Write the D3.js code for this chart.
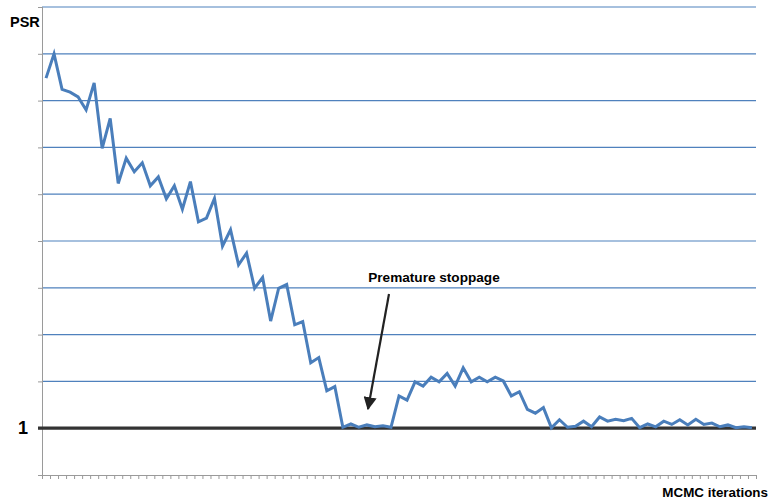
<!DOCTYPE html>
<html>
<head>
<meta charset="utf-8">
<script src="https://cdn.jsdelivr.net/npm/d3@7"></script>
<style>
  html, body { margin: 0; padding: 0; background: #fff; }
  svg { display: block; font-family: "Liberation Sans", Arial, sans-serif; }
</style>
</head>
<body>
<svg id="chart" width="772" height="499"></svg>
<script>
// PSR value per MCMC iteration (in gridline units; 1 = convergence line)
const psr = [
  8.48, 9.00, 8.24, 8.18, 8.08, 7.80, 8.38, 6.98, 7.62, 6.23,
  6.77, 6.48, 6.67, 6.18, 6.37, 5.90, 6.18, 5.68, 6.27, 5.41,
  5.49, 5.91, 4.89, 5.24, 4.49, 4.74, 3.99, 4.22, 3.29, 3.99,
  4.07, 3.21, 3.28, 2.40, 2.51, 1.80, 1.89, 1.02, 1.09, 1.02,
  1.07, 1.03, 1.05, 1.02, 1.69, 1.60, 1.99, 1.90, 2.09, 1.99,
  2.17, 1.90, 2.29, 1.99, 2.09, 1.99, 2.09, 2.01, 1.69, 1.78,
  1.40, 1.32, 1.44, 1.01, 1.18, 1.02, 1.04, 1.15, 1.03, 1.24,
  1.15, 1.19, 1.16, 1.21, 1.01, 1.09, 1.03, 1.15, 1.08, 1.18,
  1.07, 1.19, 1.08, 1.11, 1.03, 1.07, 1.01, 1.03, 1.01
];
const iterations = psr.map((d, i) => i + 1);
const yGridValues = [2, 3, 4, 5, 6, 7, 8, 9, 10];
const yTickValues = [0, 1, 2, 3, 4, 5, 6, 7, 8, 9, 10];
const yLabelValues = [1];
const yAxisTitle = "PSR";
const xAxisTitle = "MCMC iterations";
const annotationText = "Premature stoppage";

(function () {
const svg = d3.select("#chart");
const mLeft = 42, mRight = 756, mTop = 7, mBottom = 475;

const x = d3.scalePoint().domain(iterations).range([mLeft, mRight]).padding(0.5);
const xEdges = d3.scaleLinear().domain([0, iterations.length]).range([mLeft, mRight]);
const y = d3.scaleLinear().domain([0, 10]).range([mBottom, mTop]);

// gridlines
svg.append("g").selectAll("line").data(yGridValues).join("line")
  .attr("x1", mLeft).attr("x2", mRight)
  .attr("y1", d => y(d)).attr("y2", d => y(d))
  .attr("stroke", "#4f81bd").attr("stroke-width", 1.2);

// x axis with tick marks at category boundaries
svg.append("g").attr("transform", `translate(0,${mBottom})`)
  .call(d3.axisBottom(xEdges).tickValues(d3.range(0, iterations.length + 1)).tickSize(4).tickFormat(""))
  .call(g => g.select(".domain").attr("stroke", "#9a9a9a").attr("d", `M${mLeft - 4},0.5H${mRight}`))
  .call(g => g.selectAll(".tick line").attr("stroke", "#9a9a9a"));

// y axis
svg.append("g").attr("transform", `translate(${mLeft},0)`)
  .call(d3.axisLeft(y).tickValues(yTickValues).tickSize(4).tickPadding(10)
    .tickFormat(d => yLabelValues.includes(d) ? String(d) : ""))
  .call(g => g.select(".domain").attr("stroke", "#9a9a9a").attr("d", `M0.5,${mTop}V${mBottom}`))
  .call(g => g.selectAll(".tick line").attr("stroke", "#9a9a9a"))
  .call(g => g.selectAll(".tick text").attr("fill", "#000").attr("font-size", 18)
    .attr("font-weight", "bold").attr("font-family", "'Liberation Sans', Arial, sans-serif"));

// convergence line at PSR = 1
svg.append("line")
  .attr("x1", mLeft - 4).attr("x2", mRight)
  .attr("y1", y(1)).attr("y2", y(1))
  .attr("stroke", "#333").attr("stroke-width", 3.2);

// PSR series
svg.append("path").datum(psr)
  .attr("fill", "none").attr("stroke", "#4a7ebb").attr("stroke-width", 3)
  .attr("stroke-linejoin", "miter")
  .attr("d", d3.line().x((d, i) => x(iterations[i])).y(d => y(d)));

// axis titles
svg.append("text").attr("x", 10).attr("y", 27).text(yAxisTitle)
  .attr("font-size", 14.5).attr("font-weight", "bold").attr("fill", "#000");
svg.append("text").attr("x", 768).attr("y", 497).attr("text-anchor", "end").text(xAxisTitle)
  .attr("font-size", 13.4).attr("font-weight", "bold").attr("fill", "#000");

// annotation
svg.append("text").attr("x", 434).attr("y", 282).attr("text-anchor", "middle").text(annotationText)
  .attr("font-size", 13.6).attr("font-weight", "bold").attr("fill", "#000");

const defs = svg.append("defs");
defs.append("marker").attr("id", "arrowhead")
  .attr("viewBox", "0 0 10 10").attr("refX", 9).attr("refY", 5)
  .attr("markerWidth", 6).attr("markerHeight", 6).attr("orient", "auto")
  .attr("markerUnits", "strokeWidth")
  .append("path").attr("d", "M0,0L10,5L0,10Z").attr("fill", "#222");

svg.append("line")
  .attr("x1", 389).attr("y1", 294)
  .attr("x2", 368).attr("y2", 409)
  .attr("stroke", "#222").attr("stroke-width", 2.2)
  .attr("marker-end", "url(#arrowhead)");
})();
</script>
</body>
</html>
